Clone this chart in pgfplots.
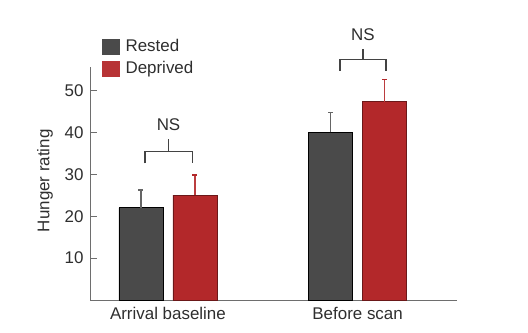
\documentclass[border=0pt]{standalone}
\usepackage{pgfplots}
\pgfplotsset{compat=1.18}
\usepackage{fontspec}
\setmainfont{Liberation Sans}
\definecolor{rested}{HTML}{4A4A4A}
\definecolor{deprived}{HTML}{B3282A}
\definecolor{axgray}{HTML}{6E6E6E}
\definecolor{txt}{HTML}{2E2E2E}
\begin{document}
\begin{tikzpicture}
\path[use as bounding box] (-90bp,-33bp) rectangle (438bp,300bp);
\begin{axis}[
  at={(0,0)}, anchor=south west,
  scale only axis, width=367bp, height=233bp,
  ybar=10bp, bar width=44bp,
  xmin=-0.411, xmax=1.524, ymin=0, ymax=55.6,
  axis x line*=bottom, axis y line*=left,
  axis line style={axgray, line width=1pt},
  xtick={0,1}, xticklabels={Arrival baseline, Before scan},
  x tick style={draw=none},
  ytick={10,20,30,40,50},
  y tick style={axgray, line width=1pt},
  tick align=inside, major tick length=7bp,
  font=\fontsize{17}{19}\selectfont,
  tick label style={text=txt},
  /pgf/number format/assume math mode=true,
  yticklabel style={xshift=-3bp},
  xticklabel style={yshift=-4bp},
  ylabel={Hunger rating},
  ylabel style={at={(axis description cs:-0.1226,0.512)}, anchor=center, text=txt},
  clip=false,
  legend style={at={(rel axis cs:0.032,1.123)}, anchor=north west, draw=none, fill=none,
    inner sep=0pt, outer sep=0pt, row sep=5bp, text=txt,
    font=\fontsize{17}{19}\selectfont,
    nodes={inner sep=1bp, text height=12bp, text depth=3bp}},
  legend cell align=left,
]
\addplot+[fill=rested, draw=black, line width=0.8pt,
  legend image code/.code={\fill[rested] (0bp,-7.5bp) rectangle (17.5bp,7.5bp); \path (22bp,0bp);},
  error bars/.cd, y dir=plus, y explicit,
  error bar style={rested!85, line width=1.6pt},
  error mark options={rested!85, mark size=2.5bp, line width=1.6pt, rotate=90}]
  coordinates {(0,22) +- (0,4.3) (1,40) +- (0,4.7)};
\addlegendentry{Rested}
\addplot+[fill=deprived, draw=deprived!60!black, line width=0.8pt,
  legend image code/.code={\fill[deprived!95] (0bp,-7.5bp) rectangle (17.5bp,7.5bp); \path (22bp,0bp);},
  error bars/.cd, y dir=plus, y explicit,
  error bar style={deprived!90!white, line width=1.6pt},
  error mark options={deprived, mark size=2.5bp, line width=1.6pt, rotate=90}]
  coordinates {(0,25) +- (0,4.8) (1,47.3) +- (0,5.3)};
\addlegendentry{Deprived}
\draw[txt!90, line width=1.2pt] (axis cs:-0.121,32.6) -- (axis cs:-0.121,35.4) -- (axis cs:0.128,35.4) -- (axis cs:0.128,32.6);
\draw[txt!90, line width=1.2pt] (axis cs:0.0035,35.4) -- (axis cs:0.0035,38.4);
\node[text=txt] at (axis cs:0.003,41.8) {NS};
\draw[txt!90, line width=1.2pt] (axis cs:0.907,54.7) -- (axis cs:0.907,57.3) -- (axis cs:1.150,57.3) -- (axis cs:1.150,54.7);
\draw[txt!90, line width=1.2pt] (axis cs:1.028,57.3) -- (axis cs:1.028,59.8);
\node[text=txt] at (axis cs:1.028,63.2) {NS};
\end{axis}
\end{tikzpicture}
\end{document}
